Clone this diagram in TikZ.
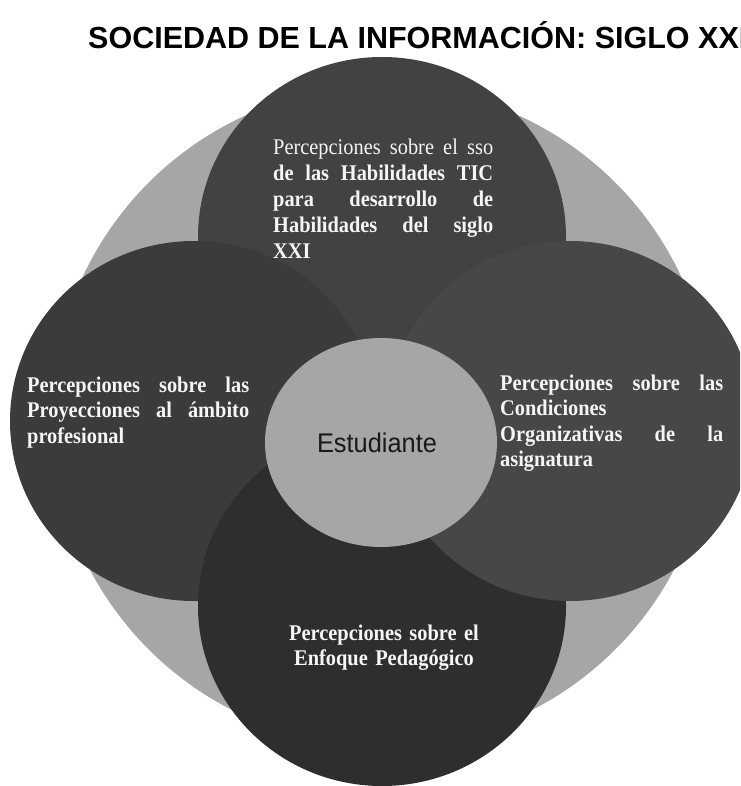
\documentclass[tikz,border=0pt]{standalone}
\usepackage{fontspec}
\setmainfont{Liberation Serif}
\setsansfont{Liberation Sans}
\newfontfamily\petalfont{Liberation Serif}[FakeStretch=0.91]
\newfontfamily\hubfont{Liberation Sans}[FakeStretch=0.94]
\usepackage{tikz}
\definecolor{ring}{HTML}{A6A6A6}
\definecolor{petalT}{HTML}{424242}
\definecolor{petalL}{HTML}{3B3B3B}
\definecolor{petalB}{HTML}{2E2E2E}
\definecolor{petalR}{HTML}{474747}
\hyphenpenalty=10000
\exhyphenpenalty=10000

\begin{document}
\begin{tikzpicture}[x=1pt, y=-1pt,
  petal/.style={text=white!96!black, inner sep=0pt, text width=222pt, align=justify,
    font=\petalfont\bfseries\fontsize{22.4}{25.5}\selectfont}]

  \newcommand\RX{184pt}
  \newcommand\RY{180pt}

  \useasboundingbox (0,0) rectangle (740,786);
  \clip (0,0) rectangle (740,786);
  \fill[white] (0,0) rectangle (740,786);

  \node[anchor=base west, inner sep=0pt, font=\sffamily\bfseries\fontsize{30.5}{34}\selectfont]
    (title) at (88,49) {SOCIEDAD DE LA INFORMACIÓN: SIGLO XXI};

  \fill[ring] (382,416) circle[radius=330pt]; %% ring
  \fill[petalT] (382,237) ellipse[x radius=\RX, y radius=\RY]; %% top
  \fill[petalL] (194,421) ellipse[x radius=\RX, y radius=\RY]; %% left
  \fill[petalB] (382,606) ellipse[x radius=\RX, y radius=\RY]; %% bottom
  \fill[petalR] (570,421) ellipse[x radius=\RX, y radius=\RY]; %% right
  \fill[ring] (381,442.5) ellipse[x radius=116pt, y radius=104.5pt]; %% centre

  \node[petal, text width=220pt, font=\petalfont\bfseries\fontsize{22.4}{26}\selectfont, anchor=base west]
    (habilidades) at (273,155)
    {{\mdseries Percepciones sobre el sso}\linebreak de las Habilidades TIC\linebreak
     para desarrollo de\linebreak Habilidades del siglo\linebreak XXI};

  \node[petal, anchor=base west] (proyecciones) at (27,392)
    {Percepciones sobre las\linebreak Proyecciones al ámbito\linebreak profesional};

  \node[petal, text width=223pt, anchor=base west] (condiciones) at (500,390)
    {Percepciones sobre las\linebreak Condiciones\newline
     Organizativas de la\linebreak asignatura};

  \node[petal, align=center, anchor=base] (enfoque) at (384,640)
    {Percepciones sobre el\\ Enfoque Pedagógico};

  \node[inner sep=0pt, text=black!90, font=\hubfont\fontsize{27}{30}\selectfont]
    (estudiante) at (377,443) {Estudiante};
\end{tikzpicture}
\end{document}
